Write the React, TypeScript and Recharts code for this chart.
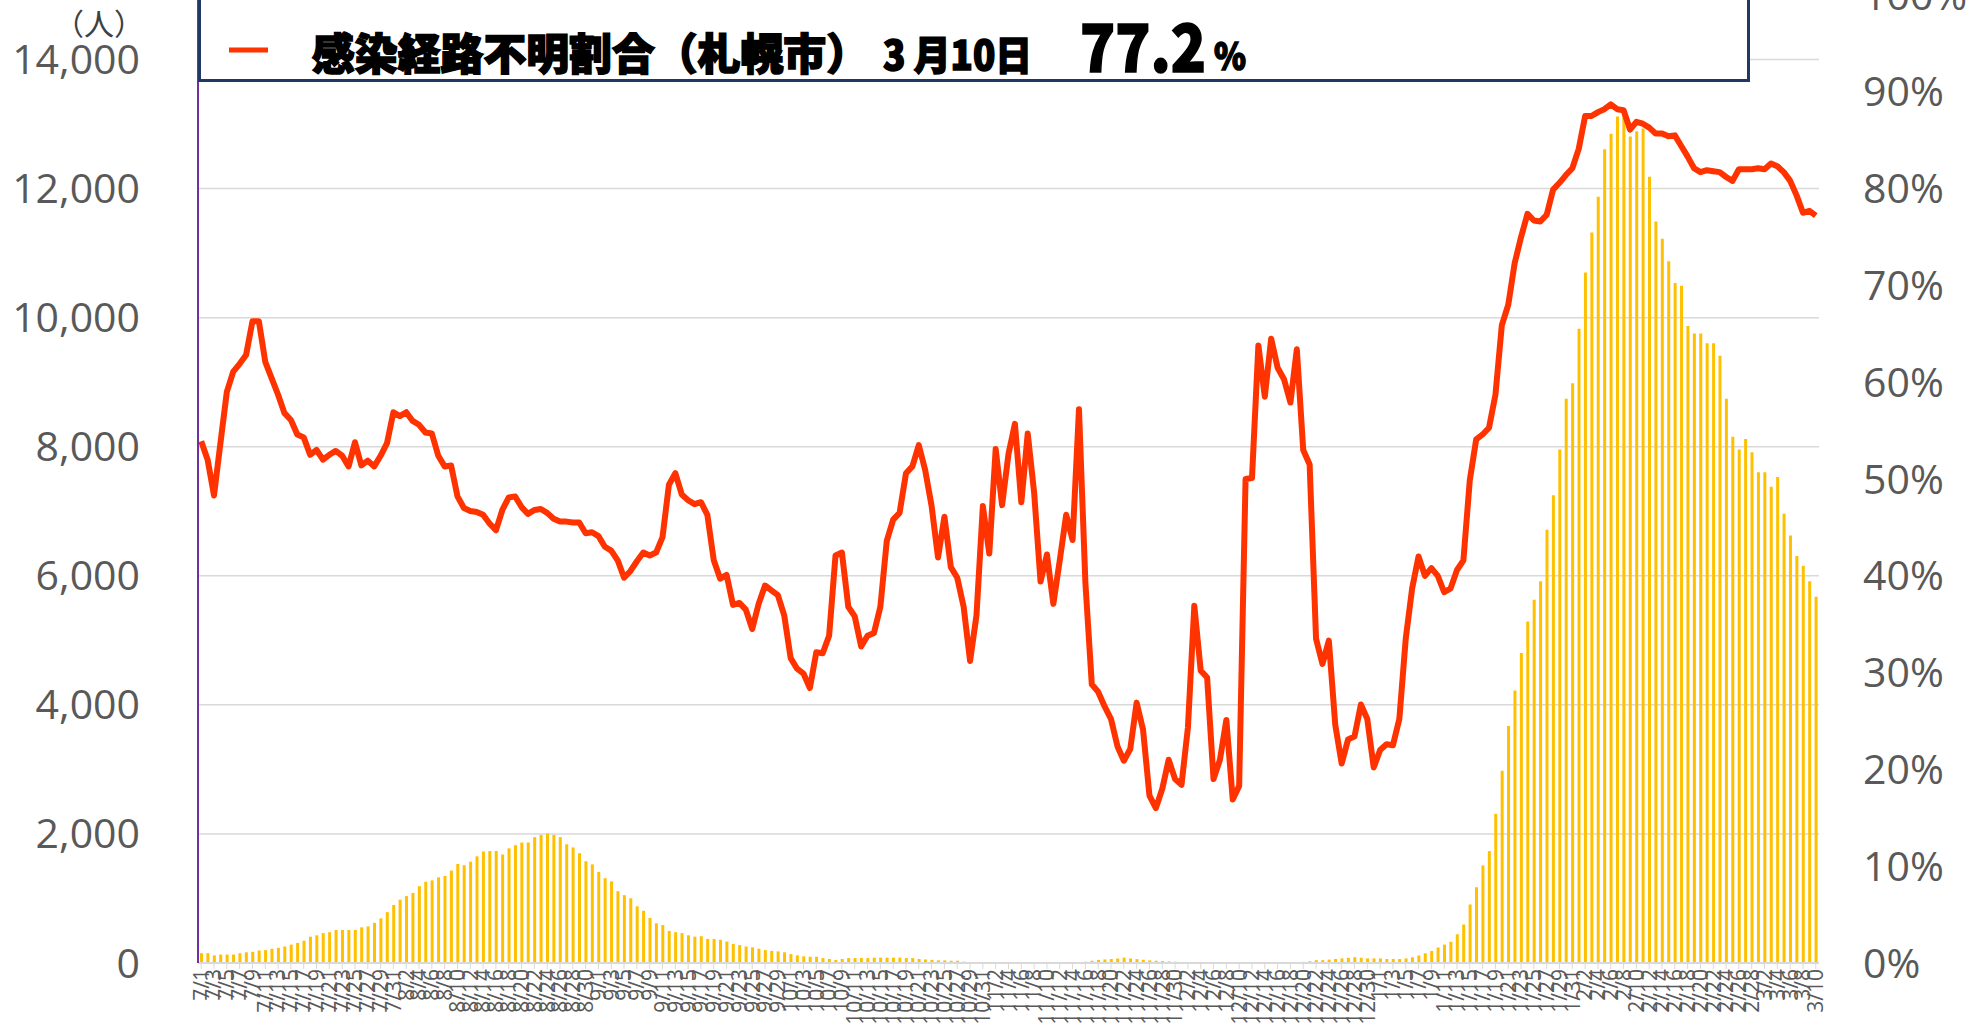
import React from "react";
import {
  ComposedChart,
  Bar,
  Line,
  XAxis,
  YAxis,
  CartesianGrid,
  Legend,
} from "recharts";

// date axis: 7/1 .. 3/10
const MONTHS = [7, 8, 9, 10, 11, 12, 1, 2, 3];
const MONTH_DAYS = [31, 31, 30, 31, 30, 31, 31, 28, 10];
const dates: string[] = MONTHS.flatMap((m, i) =>
  Array.from({ length: MONTH_DAYS[i] }, (_, d) => `${m}/${d + 1}`)
);

// 新規感染者数（人）- bars, left axis
const cases = [
  152, 152, 118, 131, 131, 131, 152, 166, 173, 194,
  200, 221, 235, 256, 284, 311, 346, 408, 429, 463,
  477, 512, 512, 512, 512, 553, 567, 622, 692, 788,
  899, 982, 1037, 1086, 1190, 1259, 1280, 1328, 1349, 1432,
  1535, 1515, 1570, 1653, 1729, 1736, 1736, 1681, 1777, 1826,
  1867, 1867, 1950, 1985, 2006, 1985, 1950, 1840, 1791, 1701,
  1577, 1528, 1411, 1314, 1266, 1113, 1051, 1003, 878, 809,
  699, 615, 588, 498, 477, 463, 429, 408, 415, 373,
  373, 360, 332, 297, 277, 256, 242, 221, 200, 187,
  180, 166, 138, 118, 104, 97, 97, 76, 62, 48,
  62, 76, 76, 76, 76, 83, 83, 83, 83, 83,
  76, 76, 62, 55, 48, 41, 41, 35, 35, 21,
  14, 14, 7, 7, 7, 7, 7, 7, 6, 6,
  5, 5, 5, 5, 6, 8, 10, 14, 20, 35,
  48, 55, 62, 70, 83, 70, 60, 50, 41, 35,
  30, 25, 20, 15, 12, 10, 8, 6, 5, 5,
  5, 5, 5, 5, 5, 5, 6, 6, 7, 8,
  9, 12, 18, 27, 44, 44, 53, 62, 71, 80,
  89, 80, 71, 71, 71, 62, 62, 62, 71, 89,
  116, 151, 187, 240, 285, 329, 445, 596, 907, 1174,
  1512, 1734, 2312, 2979, 3673, 4224, 4802, 5292, 5629, 5914,
  6714, 7248, 7959, 8742, 8982, 9827, 10698, 11321, 11872, 12610,
  12850, 13117, 13161, 12806, 12890, 12930, 12183, 11490, 11223, 10876,
  10538, 10494, 9871, 9756, 9756, 9604, 9604, 9409, 8742, 8155,
  7959, 8119, 7915, 7604, 7604, 7381, 7532, 6963, 6625, 6305,
  6154, 5914, 5674,
];

// 感染経路不明割合（%）- line, right axis
const unknownRate = [
  53.9, 52.0, 48.3, 53.7, 59.0, 61.1, 61.9, 62.8, 66.3, 66.3,
  62.1, 60.4, 58.7, 56.8, 56.1, 54.6, 54.3, 52.5, 53.0, 52.0,
  52.5, 52.9, 52.4, 51.3, 53.8, 51.4, 51.9, 51.3, 52.4, 53.7,
  56.9, 56.5, 56.9, 56.0, 55.6, 54.8, 54.7, 52.4, 51.3, 51.4,
  48.2, 47.0, 46.7, 46.6, 46.3, 45.4, 44.7, 46.8, 48.1, 48.2,
  47.1, 46.4, 46.8, 46.9, 46.5, 45.9, 45.6, 45.6, 45.5, 45.5,
  44.4, 44.5, 44.1, 43.0, 42.6, 41.6, 39.8, 40.5, 41.5, 42.4,
  42.1, 42.4, 44.0, 49.4, 50.6, 48.4, 47.8, 47.4, 47.6, 46.3,
  41.6, 39.7, 40.1, 37.0, 37.2, 36.5, 34.5, 37.1, 39.0, 38.5,
  38.0, 35.9, 31.5, 30.4, 29.9, 28.4, 32.1, 32.0, 33.8, 42.1,
  42.4, 36.8, 35.8, 32.7, 33.8, 34.1, 36.8, 43.6, 45.8, 46.5,
  50.6, 51.3, 53.5, 50.9, 47.2, 41.9, 46.1, 40.9, 39.8, 36.8,
  31.2, 35.9, 47.2, 42.3, 53.1, 47.3, 52.6, 55.7, 47.6, 54.7,
  48.6, 39.4, 42.2, 37.1, 41.6, 46.3, 43.7, 57.2, 39.3, 28.8,
  28.0, 26.5, 25.2, 22.4, 20.9, 22.1, 26.9, 24.1, 17.3, 16.0,
  18.0, 21.0, 19.0, 18.4, 24.3, 36.9, 30.2, 29.5, 19.0, 21.0,
  25.1, 16.9, 18.3, 50.0, 50.1, 63.8, 58.5, 64.5, 61.5, 60.3,
  57.9, 63.4, 53.0, 51.5, 33.5, 30.9, 33.3, 24.6, 20.6, 23.1,
  23.4, 26.7, 25.2, 20.2, 22.0, 22.6, 22.5, 25.2, 33.5, 38.7,
  42.0, 40.0, 40.8, 40.0, 38.3, 38.7, 40.6, 41.6, 49.9, 54.1,
  54.6, 55.3, 58.7, 65.9, 68.0, 72.3, 75.0, 77.4, 76.7, 76.6,
  77.3, 79.9, 80.6, 81.4, 82.1, 84.1, 87.5, 87.5, 87.9, 88.2,
  88.7, 88.2, 88.1, 86.1, 86.9, 86.7, 86.3, 85.7, 85.7, 85.4,
  85.5, 84.4, 83.3, 82.1, 81.7, 81.9, 81.8, 81.7, 81.2, 80.8,
  82.0, 82.0, 82.0, 82.1, 82.0, 82.6, 82.3, 81.7, 80.8, 79.3,
  77.5, 77.7, 77.2,
];

const leftTicks = [0, 2000, 4000, 6000, 8000, 10000, 12000, 14000];
const rightTicks = [0, 10, 20, 30, 40, 50, 60, 70, 80, 90, 100];

const legendTitle = "感染経路不明割合（札幌市）";
const legendDate = "3 月10日";
const legendValue = "77.2";

const data = dates.map((date, i) => ({
  date,
  cases: cases[i],
  rate: unknownRate[i],
}));

const GRAY = "#595959";
const LINE_RED = "#FF3300";
const BAR_GOLD = "#FFC000";
const JP_FONT = "'Noto Sans CJK JP', sans-serif";
const NUM_FONT = "'Open Sans', sans-serif";

// rotated date labels under the axis
const DateTick = ({ x, y, payload }: any) => (
  <g transform={`translate(${x},${y})`}>
    <text
      transform="rotate(-90)"
      textAnchor="end"
      dy="0.35em"
      fill={GRAY}
      fontSize={21}
      fontFamily={NUM_FONT}
    >
      {payload.value}
    </text>
  </g>
);

// boxed legend at the top (page coordinates)
const LegendBox = () => (
  <svg width={1974} height={110} style={{ overflow: "visible", display: "block" }}>
    <rect
      x={199.5}
      y={-10}
      width={1549}
      height={90.5}
      fill="#fff"
      stroke="#203864"
      strokeWidth={3}
    />
    <line x1={229} x2={268} y1={50} y2={50} stroke={LINE_RED} strokeWidth={5} />
    <g fontFamily={JP_FONT} fontWeight={900} fill="#000" stroke="#000" strokeWidth={1.6}>
      <text x={312} y={70} fontSize={43} textLength={557} lengthAdjust="spacingAndGlyphs">
        {legendTitle}
      </text>
      <text x={883} y={70} fontSize={40} textLength={149} lengthAdjust="spacingAndGlyphs">
        {legendDate}
      </text>
      <text x={1080} y={72} fontSize={66} textLength={126} lengthAdjust="spacingAndGlyphs">
        {legendValue}
      </text>
      <text x={1214} y={70} fontSize={38} textLength={32} lengthAdjust="spacingAndGlyphs">
        %
      </text>
    </g>
  </svg>
);

export default function App() {
  return (
    <div
      style={{
        position: "absolute",
        left: 0,
        top: 0,
        width: 1974,
        height: 1023,
        overflow: "hidden",
        background: "#fff",
      }}
    >
      <div style={{ position: "absolute", left: 0, top: -25 }}>
        <ComposedChart
          width={1974}
          height={1100}
          data={data}
          margin={{ top: 20, right: 0, left: 0, bottom: 0 }}
        >
          <CartesianGrid
            yAxisId="left"
            vertical={false}
            stroke="#D9D9D9"
            strokeWidth={1.5}
          />
          <XAxis
            dataKey="date"
            interval={1}
            tick={<DateTick />}
            tickLine={{ stroke: "#D9D9D9" }}
            axisLine={{ stroke: "#D9D9D9", strokeWidth: 2 }}
            tickSize={6}
            tickMargin={0}
            height={112}
          />
          <YAxis
            yAxisId="left"
            domain={[0, 15000]}
            ticks={leftTicks}
            interval={0}
            tickFormatter={(v: number) => v.toLocaleString("en-US")}
            axisLine={{ stroke: "#7030A0", strokeWidth: 2 }}
            tickLine={false}
            tick={{ fill: GRAY, fontSize: 41, fontFamily: NUM_FONT }}
            tickMargin={52}
            width={198}
            label={{
              value: "（人）",
              position: "top",
              offset: -40,
              fill: "#404040",
              fontSize: 30,
              fontFamily: JP_FONT,
            }}
          />
          <YAxis
            yAxisId="right"
            orientation="right"
            domain={[0, 100]}
            ticks={rightTicks}
            interval={0}
            tickFormatter={(v: number) => `${v}%`}
            axisLine={false}
            tickLine={false}
            tick={{ fill: GRAY, fontSize: 41, fontFamily: NUM_FONT }}
            tickMargin={38}
            width={155}
          />
          <Legend
            layout="horizontal"
            verticalAlign="middle"
            align="center"
            content={<LegendBox />}
            wrapperStyle={{ position: "absolute", left: 0, top: 25, width: 1974, height: 110 }}
          />
          <Bar
            yAxisId="left"
            dataKey="cases"
            fill={BAR_GOLD}
            barSize={3}
            isAnimationActive={false}
          />
          <Line
            yAxisId="right"
            dataKey="rate"
            type="linear"
            stroke={LINE_RED}
            strokeWidth={6}
            strokeLinejoin="round"
            dot={false}
            activeDot={false}
            isAnimationActive={false}
          />
        </ComposedChart>
      </div>
    </div>
  );
}
